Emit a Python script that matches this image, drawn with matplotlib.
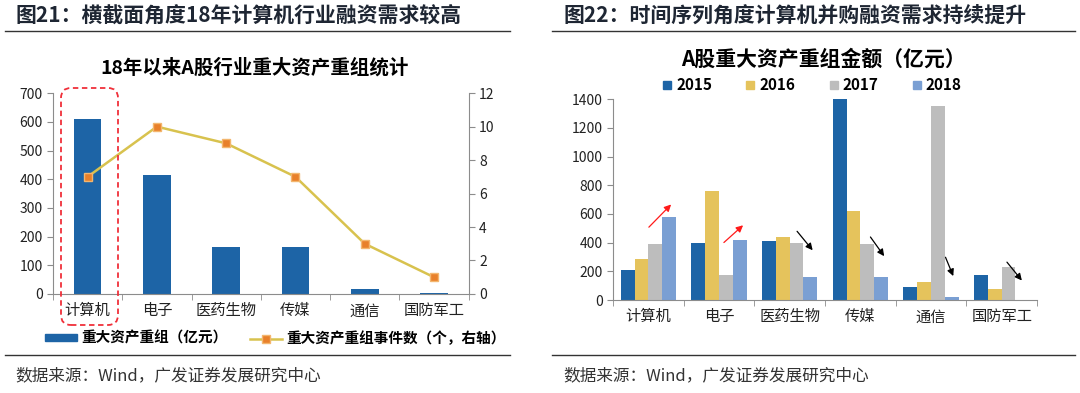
import matplotlib.pyplot as plt
import numpy as np
from matplotlib.patches import FancyBboxPatch, Patch
from matplotlib.lines import Line2D

plt.rcParams['font.family'] = ['Noto Sans CJK SC', 'DejaVu Sans']

categories = ["计算机", "电子", "医药生物", "传媒", "通信", "国防军工"]

# left chart
amount_18 = [611, 416, 163, 163, 17, 3]
events_18 = [7, 10, 9, 7, 3, 1]

# right chart
years = ["2015", "2016", "2017", "2018"]
amount_2015 = [209, 395, 409, 1420, 88, 174]
amount_2016 = [286, 762, 439, 622, 123, 79]
amount_2017 = [388, 172, 400, 388, 1350, 230]
amount_2018 = [581, 418, 163, 163, 21, 0]

# trend arrows (start x, start y, end x, end y, colour)
arrows = [
    (-0.02, 494, 0.35, 680, "#FF1A1A"),
    (1.04, 388, 1.37, 534, "#FF1A1A"),
    (2.08, 494, 2.35, 332, "black"),
    (3.12, 455, 3.36, 290, "black"),
    (4.19, 316, 4.33, 149, "black"),
    (5.05, 279, 5.31, 121, "black"),
]

BLUE = "#1D64A6"
YELLOW = "#E5C35C"
GREY = "#BDBDBD"
LBLUE = "#7A9FD3"
TXT = "#222222"
SPINE = "#8C8C8C"

fig = plt.figure(figsize=(10.8, 3.93), dpi=100)


def style_axis(ax):
    for s in ["top", "right"]:
        ax.spines[s].set_visible(False)
    for s in ["left", "bottom"]:
        ax.spines[s].set_color(SPINE)
    ax.set_xlim(-0.5, len(categories) - 0.5)
    ax.set_xticks(np.arange(len(categories)))
    ax.set_xticklabels(categories, fontsize=11, color=TXT)
    ax.set_xticks(np.arange(len(categories) + 1) - 0.5, minor=True)
    ax.tick_params(axis="x", which="major", length=0, pad=6)
    ax.tick_params(axis="x", which="minor", length=4, color=SPINE)
    ax.tick_params(axis="y", length=4, color=SPINE, labelsize=10, labelcolor=TXT)


# ---- left panel
fig.text(0.014, 0.962, "图21：横截面角度18年计算机行业融资需求较高", fontsize=15,
         fontweight="bold", color="#1E2633", va="center")
fig.add_artist(Line2D([0.005, 0.472], [0.922, 0.922], color="#333333", lw=1))
fig.text(0.236, 0.827, "18年以来A股行业重大资产重组统计", fontsize=14,
         fontweight="bold", color="black", ha="center", va="center")

ax1 = fig.add_axes([0.049, 0.252, 0.385, 0.511])
x = np.arange(len(categories))
ax1.bar(x, amount_18, width=0.4, color=BLUE, zorder=2)
style_axis(ax1)
ax1.set_ylim(0, 700)
ax1.set_yticks(range(0, 701, 100))

ax1r = ax1.twinx()
ax1r.plot(x, events_18, color="#D8C24E", lw=1.8, marker="s", markersize=6,
          markerfacecolor="#E8802A", markeredgecolor="#F3B66E", zorder=3)
ax1r.set_ylim(0, 12)
ax1r.set_yticks(range(0, 13, 2))
for s in ["top", "left", "bottom"]:
    ax1r.spines[s].set_visible(False)
ax1r.spines["right"].set_color(SPINE)
ax1r.tick_params(axis="y", length=4, color=SPINE, labelsize=10, labelcolor=TXT)

box = FancyBboxPatch((0.63, 0.70), 0.53, 2.33,
                     boxstyle="round,pad=0.02,rounding_size=0.1",
                     transform=fig.dpi_scale_trans, fill=False,
                     edgecolor="#F0303A", lw=1.3, ls=(0, (3, 2)), zorder=5)
fig.add_artist(box)

h1 = [Patch(facecolor=BLUE, edgecolor=BLUE),
      Line2D([], [], color="#D8C24E", lw=1.8, marker="s", markersize=6,
             markerfacecolor="#E8802A", markeredgecolor="#F3B66E")]
fig.legend(h1, ["重大资产重组（亿元）", "重大资产重组事件数（个，右轴）"],
           loc="center", bbox_to_anchor=(0.255, 0.14), ncol=2, frameon=False,
           prop={"size": 10.5, "weight": "bold"}, handlelength=2.2,
           handleheight=0.35, columnspacing=1.5, handletextpad=0.3)

fig.add_artist(Line2D([0.005, 0.472], [0.097, 0.097], color="#333333", lw=1))
fig.text(0.014, 0.045, "数据来源：Wind，广发证券发展研究中心", fontsize=12,
         color="#333333", va="center")

# ---- right panel
fig.text(0.522, 0.962, "图22：时间序列角度计算机并购融资需求持续提升", fontsize=15,
         fontweight="bold", color="#1E2633", va="center")
fig.add_artist(Line2D([0.511, 0.995], [0.922, 0.922], color="#333333", lw=1))
fig.text(0.762, 0.85, "A股重大资产重组金额（亿元）", fontsize=15,
         fontweight="bold", color="black", ha="center", va="center")

ax2 = fig.add_axes([0.5676, 0.2366, 0.3926, 0.511])
w = 0.195
series = [amount_2015, amount_2016, amount_2017, amount_2018]
colors = [BLUE, YELLOW, GREY, LBLUE]
for i, (vals, c) in enumerate(zip(series, colors)):
    ax2.bar(x + (i - 1.5) * w, vals, width=w, color=c, label=years[i], zorder=2)
style_axis(ax2)
ax2.set_ylim(0, 1400)
ax2.set_yticks(range(0, 1401, 200))
for x0, y0, x1, y1, c in arrows:
    ax2.annotate("", xy=(x1, y1), xytext=(x0, y0),
                 arrowprops=dict(arrowstyle="-|>", color=c, lw=0.9,
                                 mutation_scale=10), zorder=4)

h2 = [Line2D([], [], ls="none", marker="s", markersize=6, color=c) for c in colors]
fig.legend(h2, years, loc="center", bbox_to_anchor=(0.752, 0.784), ncol=4,
           frameon=False, prop={"size": 11, "weight": "bold"},
           handlelength=0.6, columnspacing=2.2, handletextpad=0.3)

fig.add_artist(Line2D([0.511, 0.995], [0.097, 0.097], color="#333333", lw=1))
fig.text(0.522, 0.045, "数据来源：Wind，广发证券发展研究中心", fontsize=12,
         color="#333333", va="center")

fig.savefig("out.png", dpi=100)
